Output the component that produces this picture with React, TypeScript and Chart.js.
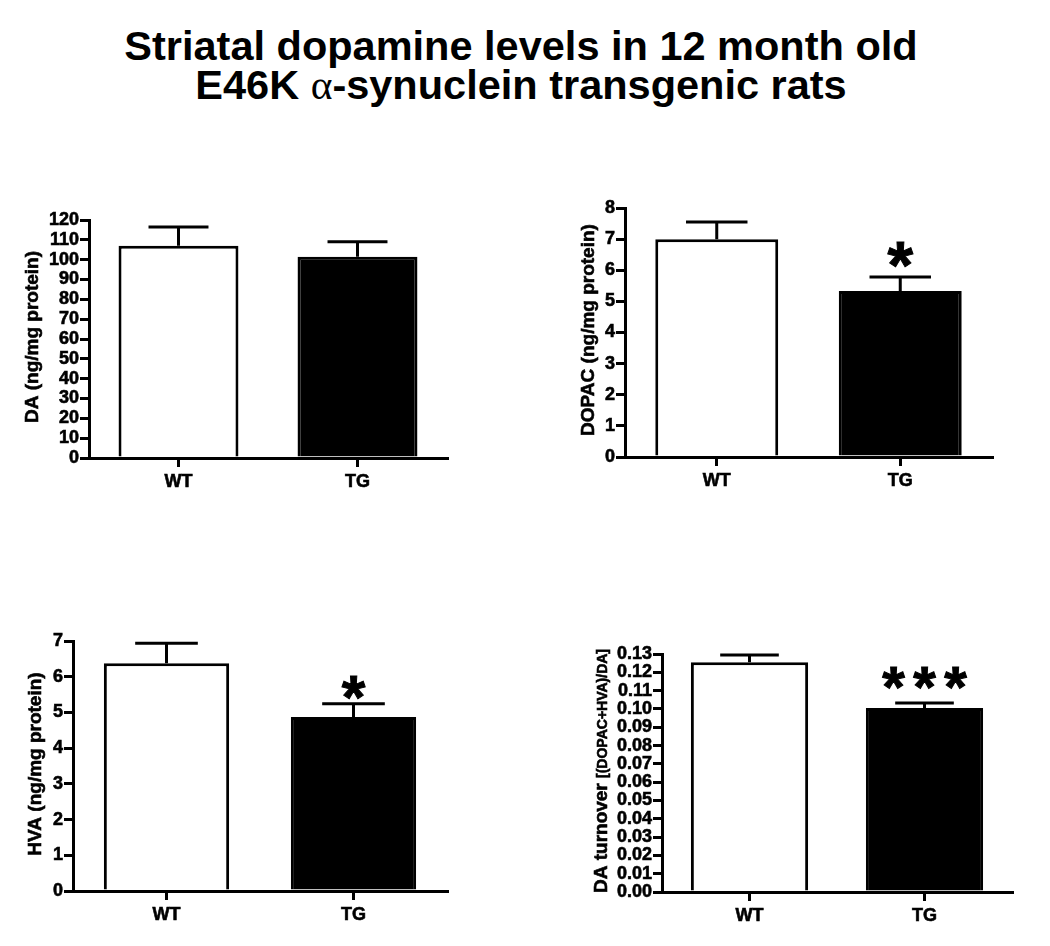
import React, { useEffect, useRef } from "react";
import { Chart, registerables } from "chart.js";

Chart.register(...registerables);

// ---------- data ----------
const groups = ["WT", "TG"];

const daMean = [107.0, 101.5];
const daSem = [9.5, 7.5];
const daSig = ["", ""];

const dopacMean = [7.0, 5.33];
const dopacSem = [0.55, 0.45];
const dopacSig = ["", "*"];

const hvaMean = [6.38, 4.87];
const hvaSem = [0.56, 0.37];
const hvaSig = ["", "*"];

const turnoverMean = [0.1255, 0.1005];
const turnoverSem = [0.004, 0.0028];
const turnoverSig = ["", "***"];

const daAxisMax = 120;
const daAxisStep = 10;
const dopacAxisMax = 8;
const dopacAxisStep = 1;
const hvaAxisMax = 7;
const hvaAxisStep = 1;
const turnoverAxisMax = 0.13;
const turnoverAxisStep = 0.01;

const barColors = ["#ffffff", "#000000"];

// ---------- layout / style ----------
const FONT = '"Liberation Sans", Arial, Helvetica, sans-serif';
const Y_W = 70;
const X_H = 40;
const TEXT_STROKE = 0.6;

type Rect = { x: number; y: number; w: number; h: number };
type Area = { l: number; t: number; r: number; b: number };
type TitlePart = { text: string; size: number };
type Panel = {
  mean: number[];
  sem: number[];
  sig: string[];
  max: number;
  step: number;
  decimals: number;
  canvas: Rect;
  area: Area;
  title: TitlePart[];
  titleBaseX: number;
  titleCenterY: number;
  starH: number;
  starGap: number;
};

const panels: Panel[] = [
  {
    mean: daMean, sem: daSem, sig: daSig, max: daAxisMax, step: daAxisStep, decimals: 0,
    canvas: { x: 0, y: 150, w: 520, h: 360 },
    area: { l: 89, t: 220, r: 447, b: 458 },
    title: [{ text: "DA (ng/mg protein)", size: 19 }],
    titleBaseX: 38, titleCenterY: 337, starH: 24, starGap: 22,
  },
  {
    mean: dopacMean, sem: dopacSem, sig: dopacSig, max: dopacAxisMax, step: dopacAxisStep, decimals: 0,
    canvas: { x: 520, y: 150, w: 530, h: 360 },
    area: { l: 625, t: 208, r: 992, b: 457 },
    title: [{ text: "DOPAC (ng/mg protein)", size: 19 }],
    titleBaseX: 594, titleCenterY: 330, starH: 25, starGap: 23,
  },
  {
    mean: hvaMean, sem: hvaSem, sig: hvaSig, max: hvaAxisMax, step: hvaAxisStep, decimals: 0,
    canvas: { x: 0, y: 590, w: 520, h: 356 },
    area: { l: 73, t: 641, r: 447, b: 891 },
    title: [{ text: "HVA (ng/mg protein)", size: 19 }],
    titleBaseX: 41, titleCenterY: 764, starH: 23, starGap: 16,
  },
  {
    mean: turnoverMean, sem: turnoverSem, sig: turnoverSig, max: turnoverAxisMax, step: turnoverAxisStep, decimals: 2,
    canvas: { x: 520, y: 590, w: 530, h: 356 },
    area: { l: 662, t: 654, r: 1012, b: 892 },
    title: [
      { text: "DA turnover ", size: 19 },
      { text: "[(DOPAC+HVA)/DA]", size: 14 },
    ],
    titleBaseX: 607, titleCenterY: 771, starH: 22, starGap: 25,
  },
];

function overlayPlugin(p: Panel) {
  return {
    id: "overlay",
    afterDatasetsDraw(chart: any) {
      const ctx: CanvasRenderingContext2D = chart.ctx;
      const meta = chart.getDatasetMeta(0);
      const ys = chart.scales.y;
      ctx.save();
      ctx.strokeStyle = "#000";
      ctx.fillStyle = "#000";
      ctx.lineCap = "butt";
      meta.data.forEach((bar: any, i: number) => {
        const { x, y, width } = bar.getProps(["x", "y", "width"], true);
        const top = ys.getPixelForValue(p.mean[i] + p.sem[i]);
        ctx.lineWidth = 3;
        ctx.beginPath();
        ctx.moveTo(x, y);
        ctx.lineTo(x, top);
        ctx.moveTo(x - width / 4, top);
        ctx.lineTo(x + width / 4, top);
        ctx.stroke();
        const s = p.sig[i];
        if (s) {
          ctx.font = `bold 100px ${FONT}`;
          const m0 = ctx.measureText("*");
          const h0 = m0.actualBoundingBoxAscent + m0.actualBoundingBoxDescent;
          const size = (100 * p.starH) / h0;
          ctx.font = `bold ${size}px ${FONT}`;
          const m = ctx.measureText("*");
          const cy = top - p.starGap;
          const base = cy + (m.actualBoundingBoxAscent - m.actualBoundingBoxDescent) / 2;
          const spacing = 31;
          ctx.textAlign = "center";
          ctx.textBaseline = "alphabetic";
          ctx.lineWidth = 1;
          for (let k = 0; k < s.length; k++) {
            const cx = x + (k - (s.length - 1) / 2) * spacing;
            ctx.fillText(s[k], cx, base);
            ctx.strokeText(s[k], cx, base);
          }
        }
      });
      // y-axis title
      ctx.translate(p.titleBaseX - p.canvas.x, p.titleCenterY - p.canvas.y);
      ctx.rotate(-Math.PI / 2);
      ctx.textAlign = "left";
      ctx.textBaseline = "alphabetic";
      ctx.lineWidth = TEXT_STROKE;
      let total = 0;
      const widths = p.title.map((part) => {
        ctx.font = `bold ${part.size}px ${FONT}`;
        const w = ctx.measureText(part.text).width;
        total += w;
        return w;
      });
      let start = -total / 2;
      p.title.forEach((part, k) => {
        ctx.font = `bold ${part.size}px ${FONT}`;
        ctx.fillText(part.text, start, 0);
        ctx.strokeText(part.text, start, 0);
        start += widths[k];
      });
      ctx.restore();
    },
  };
}

function BarPanel({ p }: { p: Panel }) {
  const ref = useRef<HTMLCanvasElement>(null);
  useEffect(() => {
    if (!ref.current) return;
    const c = p.canvas;
    const a = p.area;
    const chart = new Chart(ref.current, {
      type: "bar",
      data: {
        labels: groups,
        datasets: [
          {
            data: p.mean,
            backgroundColor: barColors,
            borderColor: "#000",
            borderWidth: 3,
            barPercentage: 0.67,
            categoryPercentage: 1,
          },
        ],
      },
      options: {
        responsive: false,
        maintainAspectRatio: false,
        animation: false,
        devicePixelRatio: 1,
        layout: {
          padding: {
            left: a.l - c.x - Y_W,
            top: a.t - c.y,
            right: c.x + c.w - a.r,
            bottom: c.y + c.h - a.b - X_H,
          },
        },
        plugins: {
          legend: { display: false },
          tooltip: { enabled: false },
          title: { display: false },
        },
        scales: {
          x: {
            type: "category",
            offset: true,
            afterFit: (s: any) => {
              s.height = X_H;
            },
            grid: {
              offset: false,
              drawOnChartArea: false,
              drawTicks: true,
              tickLength: 9,
              lineWidth: 3,
              color: "#000",
            },
            border: { display: true, width: 3, color: "#000" },
            ticks: {
              color: "#000",
              padding: 4,
              textStrokeColor: "#000",
              textStrokeWidth: TEXT_STROKE,
              font: { family: FONT, size: 18, weight: "bold" },
            },
          },
          y: {
            min: 0,
            max: p.max,
            afterFit: (s: any) => {
              s.width = Y_W;
            },
            grid: {
              drawOnChartArea: false,
              drawTicks: true,
              tickLength: 9,
              lineWidth: 3,
              color: "#000",
            },
            border: { display: true, width: 3, color: "#000" },
            ticks: {
              stepSize: p.step,
              autoSkip: false,
              color: "#000",
              padding: 1,
              textStrokeColor: "#000",
              textStrokeWidth: TEXT_STROKE,
              font: { family: FONT, size: 18, weight: "bold" },
              callback: (v: any) => Number(v).toFixed(p.decimals),
            },
          },
        },
      } as any,
      plugins: [overlayPlugin(p)],
    });
    return () => chart.destroy();
  }, [p]);
  return (
    <canvas
      ref={ref}
      width={p.canvas.w}
      height={p.canvas.h}
      style={{
        position: "absolute",
        left: p.canvas.x,
        top: p.canvas.y,
        width: p.canvas.w,
        height: p.canvas.h,
      }}
    />
  );
}

export default function App() {
  return (
    <div
      style={{
        position: "absolute",
        left: 0,
        top: 0,
        width: 1050,
        height: 946,
        background: "#fff",
        overflow: "hidden",
      }}
    >
      <div
        style={{
          position: "absolute",
          left: 0,
          top: 26,
          width: 1042,
          textAlign: "center",
          fontFamily: FONT,
          fontWeight: "bold",
          fontSize: 41.5,
          lineHeight: "39px",
          color: "#000",
        }}
      >
        <div>Striatal dopamine levels in 12 month old</div>
        <div>
          E46K{" "}
          <span
            style={{
              fontFamily: '"Liberation Serif", "Times New Roman", serif',
              fontWeight: "normal",
            }}
          >
            α
          </span>
          -synuclein transgenic rats
        </div>
      </div>
      {panels.map((p, i) => (
        <BarPanel key={i} p={p} />
      ))}
    </div>
  );
}
